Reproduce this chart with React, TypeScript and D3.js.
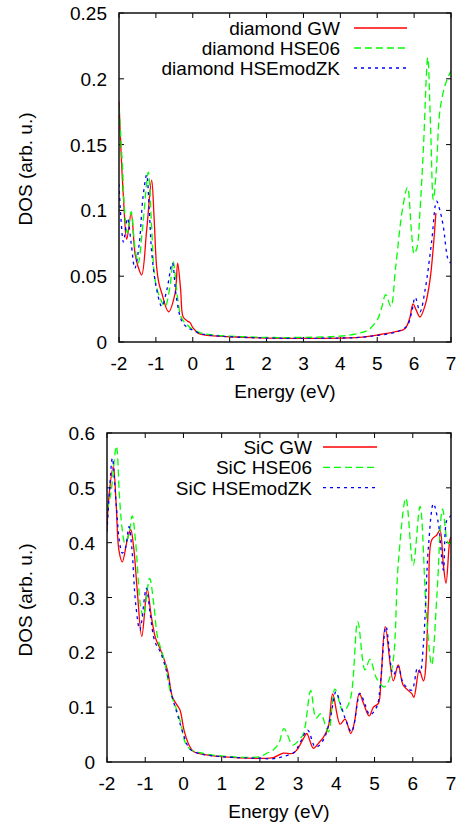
import React from "react";
import * as d3 from "d3";

// ---------- data ----------
const energyTicks = [-2, -1, 0, 1, 2, 3, 4, 5, 6, 7];
const diamondYTicks = [0, 0.05, 0.1, 0.15, 0.2, 0.25];
const sicYTicks = [0, 0.1, 0.2, 0.3, 0.4, 0.5, 0.6];

const diamondLabels = ["diamond GW", "diamond HSE06", "diamond HSEmodZK"];
const sicLabels = ["SiC GW", "SiC HSE06", "SiC HSEmodZK"];

const diamondGwE = [-2, -1.95, -1.88, -1.79, -1.67, -1.565, -1.48, -1.385, -1.25, -1.115, -1.05, -0.98, -0.92, -0.84, -0.66, -0.48, -0.41, -0.33, -0.26, -0.15, -0.075, 0.0, 0.15, 0.4, 1.0, 2.0, 3.0, 4.0, 4.5, 5.0, 5.5, 5.75, 5.88, 5.97, 6.06, 6.16, 6.3, 6.43, 6.52, 6.59];
const diamondGwDos = [0.183, 0.148, 0.11, 0.078, 0.098, 0.067, 0.057, 0.051, 0.085, 0.123, 0.095, 0.057, 0.045, 0.037, 0.023, 0.037, 0.06, 0.04, 0.019, 0.016, 0.0147, 0.011, 0.0066, 0.005, 0.004, 0.003, 0.0028, 0.003, 0.0035, 0.0053, 0.0078, 0.01, 0.018, 0.029, 0.024, 0.019, 0.028, 0.047, 0.072, 0.098];

const diamondHseE = [-2, -1.9, -1.85, -1.77, -1.67, -1.57, -1.48, -1.35, -1.205, -1.12, -1.02, -0.88, -0.75, -0.62, -0.53, -0.42, -0.3, -0.15, -0.03, 0.2, 0.5, 1.0, 2.0, 3.0, 4.0, 4.5, 4.75, 5.0, 5.12, 5.23, 5.37, 5.5, 5.68, 5.82, 5.93, 6.0, 6.08, 6.16, 6.25, 6.37, 6.45, 6.52, 6.6, 6.7, 6.85, 7.0];
const diamondHseDos = [0.178, 0.13, 0.1, 0.083, 0.099, 0.072, 0.06, 0.09, 0.129, 0.09, 0.047, 0.033, 0.027, 0.042, 0.061, 0.035, 0.018, 0.013, 0.01, 0.007, 0.0055, 0.0045, 0.0035, 0.0035, 0.0045, 0.0066, 0.009, 0.0167, 0.026, 0.036, 0.027, 0.057, 0.1, 0.1175, 0.083, 0.067, 0.072, 0.1, 0.146, 0.216, 0.16, 0.108, 0.13, 0.176, 0.196, 0.206];

const diamondModE = [-2, -1.95, -1.88, -1.77, -1.67, -1.57, -1.45, -1.35, -1.25, -1.18, -1.11, -0.98, -0.84, -0.7, -0.555, -0.45, -0.3, -0.15, 0.0, 0.2, 0.5, 1.0, 2.0, 3.0, 4.0, 4.5, 5.0, 5.5, 5.8, 5.93, 6.03, 6.16, 6.3, 6.47, 6.61, 6.7, 6.79, 6.93, 7.0];
const diamondModDos = [0.12, 0.095, 0.076, 0.094, 0.075, 0.056, 0.075, 0.11, 0.127, 0.1, 0.067, 0.04, 0.027, 0.04, 0.06, 0.035, 0.016, 0.011, 0.009, 0.0065, 0.005, 0.004, 0.003, 0.0028, 0.003, 0.0035, 0.005, 0.0075, 0.012, 0.022, 0.034, 0.023, 0.04, 0.075, 0.107, 0.1, 0.088, 0.062, 0.06];

const sicGwE = [-2, -1.95, -1.835, -1.76, -1.69, -1.6, -1.47, -1.38, -1.3, -1.21, -1.09, -0.945, -0.85, -0.73, -0.595, -0.42, -0.29, -0.18, -0.09, 0.015, 0.145, 0.26, 0.45, 1.0, 2.0, 2.35, 2.5, 2.61, 2.875, 3.0, 3.14, 3.225, 3.4, 3.53, 3.66, 3.79, 3.905, 4.1, 4.23, 4.375, 4.47, 4.6, 4.71, 4.86, 4.97, 5.1, 5.17, 5.28, 5.49, 5.62, 5.75, 5.97, 6.03, 6.17, 6.28, 6.41, 6.495, 6.63, 6.71, 6.8, 6.87, 6.97, 7.0];
const sicGwDos = [0.423, 0.484, 0.539, 0.47, 0.387, 0.365, 0.405, 0.424, 0.39, 0.314, 0.229, 0.315, 0.27, 0.226, 0.204, 0.168, 0.119, 0.105, 0.095, 0.058, 0.031, 0.019, 0.015, 0.0097, 0.0067, 0.008, 0.013, 0.016, 0.016, 0.025, 0.043, 0.052, 0.025, 0.034, 0.045, 0.064, 0.124, 0.069, 0.078, 0.052, 0.071, 0.125, 0.107, 0.084, 0.1, 0.107, 0.153, 0.247, 0.148, 0.177, 0.14, 0.125, 0.118, 0.168, 0.148, 0.29, 0.405, 0.414, 0.423, 0.36, 0.326, 0.405, 0.41];

const sicHseE = [-2, -1.9, -1.755, -1.67, -1.6, -1.53, -1.43, -1.34, -1.25, -1.12, -1.05, -0.885, -0.78, -0.68, -0.5, -0.33, -0.2, -0.07, 0.05, 0.2, 0.5, 1.0, 2.0, 2.18, 2.35, 2.5, 2.63, 2.86, 3.0, 3.14, 3.33, 3.47, 3.59, 3.79, 3.965, 4.18, 4.36, 4.56, 4.75, 4.88, 5.05, 5.25, 5.35, 5.49, 5.62, 5.82, 6.01, 6.19, 6.36, 6.495, 6.63, 6.78, 6.93, 7.0];
const sicHseDos = [0.46, 0.49, 0.576, 0.48, 0.423, 0.399, 0.415, 0.449, 0.4, 0.283, 0.265, 0.335, 0.29, 0.229, 0.185, 0.125, 0.1, 0.071, 0.035, 0.022, 0.016, 0.011, 0.0097, 0.016, 0.022, 0.035, 0.061, 0.031, 0.038, 0.052, 0.13, 0.08, 0.088, 0.055, 0.133, 0.092, 0.113, 0.256, 0.168, 0.187, 0.153, 0.137, 0.145, 0.186, 0.362, 0.481, 0.359, 0.466, 0.265, 0.177, 0.302, 0.461, 0.399, 0.4];

const sicModE = [-2, -1.93, -1.86, -1.76, -1.67, -1.6, -1.52, -1.425, -1.35, -1.25, -1.14, -0.97, -0.87, -0.75, -0.6, -0.42, -0.3, -0.15, 0.0, 0.15, 0.3, 0.5, 1.0, 2.0, 2.35, 2.61, 2.9, 3.05, 3.25, 3.44, 3.55, 3.7, 3.85, 3.99, 4.1, 4.245, 4.4, 4.62, 4.75, 4.88, 5.06, 5.15, 5.3, 5.49, 5.62, 5.75, 5.97, 6.12, 6.19, 6.28, 6.41, 6.54, 6.67, 6.8, 6.89, 6.97, 7.0];
const sicModDos = [0.42, 0.5, 0.554, 0.47, 0.4, 0.381, 0.39, 0.429, 0.39, 0.289, 0.241, 0.317, 0.27, 0.22, 0.2, 0.16, 0.12, 0.085, 0.05, 0.025, 0.018, 0.014, 0.0097, 0.0067, 0.006, 0.01, 0.018, 0.035, 0.058, 0.028, 0.03, 0.046, 0.083, 0.128, 0.107, 0.077, 0.055, 0.125, 0.105, 0.086, 0.101, 0.14, 0.247, 0.159, 0.174, 0.144, 0.131, 0.171, 0.163, 0.216, 0.393, 0.471, 0.435, 0.35, 0.441, 0.447, 0.45];

// ---------- styles ----------
const FONT = "'Liberation Sans', Arial, Helvetica, sans-serif";
const FS = 19;
const styles = [
  { color: "#ff0000", dash: "none" },
  { color: "#00ff00", dash: "7,4" },
  { color: "#0000ff", dash: "3,4" },
];

type Series = { e: number[]; v: number[] };

function Panel(props: {
  id: string;
  left: number; right: number; top: number; bottom: number;
  yMax: number; yTicks: number[];
  series: Series[]; labels: string[];
  legTextX: number; legLineX1: number; legLineX2: number; legY0: number; legDy: number;
  yLabelY: number;
}) {
  const { left, right, top, bottom } = props;
  const x = d3.scaleLinear().domain([-2, 7]).range([left, right]);
  const y = d3.scaleLinear().domain([0, props.yMax]).range([bottom, top]);
  const tl = 5;
  const fmt = (t: number) => String(+t.toFixed(2));
  return (
    <g>
      <defs>
        <clipPath id={props.id}>
          <rect x={left} y={top} width={right - left} height={bottom - top} />
        </clipPath>
      </defs>
      {energyTicks.map((t) => (
        <g key={"x" + t}>
          <line x1={x(t)} x2={x(t)} y1={bottom} y2={bottom - tl} stroke="#000" strokeWidth={1} />
          <line x1={x(t)} x2={x(t)} y1={top} y2={top + tl} stroke="#000" strokeWidth={1} />
          <text x={x(t)} y={bottom + 28} textAnchor="middle" fontSize={FS} fontFamily={FONT} fill="#000">{String(t)}</text>
        </g>
      ))}
      {props.yTicks.map((t) => (
        <g key={"y" + t}>
          <line x1={left} x2={left + tl} y1={y(t)} y2={y(t)} stroke="#000" strokeWidth={1} />
          <line x1={right} x2={right - tl} y1={y(t)} y2={y(t)} stroke="#000" strokeWidth={1} />
          <text x={left - 12} y={y(t) + 7} textAnchor="end" fontSize={FS} fontFamily={FONT} fill="#000">{fmt(t)}</text>
        </g>
      ))}
      <g clipPath={`url(#${props.id})`}>
        {props.series.map((s, i) => {
          const pts = s.e.map((e, k) => [e, s.v[k]] as [number, number]);
          const path = d3.line<[number, number]>()
            .x((d) => x(d[0]))
            .y((d) => y(d[1]))
            .curve(d3.curveCatmullRom.alpha(0.5))(pts) || "";
          return (
            <path key={i} d={path} fill="none" stroke={styles[i].color}
              strokeWidth={1.3} strokeDasharray={styles[i].dash} />
          );
        })}
      </g>
      <rect x={left} y={top} width={right - left} height={bottom - top} fill="none" stroke="#111" strokeWidth={1.5} />
      {props.labels.map((lab, i) => {
        const yy = props.legY0 + i * props.legDy;
        return (
          <g key={lab}>
            <text x={props.legTextX} y={yy + 7} textAnchor="end" fontSize={FS} fontFamily={FONT} fill="#000">{lab}</text>
            <line x1={props.legLineX1} x2={props.legLineX2} y1={yy} y2={yy} stroke={styles[i].color}
              strokeWidth={1.3} strokeDasharray={styles[i].dash} />
          </g>
        );
      })}
      <text x={(left + right) / 2} y={bottom + 56} textAnchor="middle" fontSize={FS} fontFamily={FONT} fill="#000">Energy (eV)</text>
      <text transform={`translate(32,${props.yLabelY}) rotate(-90)`} textAnchor="middle" fontSize={FS} fontFamily={FONT} fill="#000">DOS (arb. u.)</text>
    </g>
  );
}

export default function App() {
  const diamondSeries: Series[] = [
    { e: diamondGwE, v: diamondGwDos },
    { e: diamondHseE, v: diamondHseDos },
    { e: diamondModE, v: diamondModDos },
  ];
  const sicSeries: Series[] = [
    { e: sicGwE, v: sicGwDos },
    { e: sicHseE, v: sicHseDos },
    { e: sicModE, v: sicModDos },
  ];
  return (
    <svg width={466} height={827} style={{ position: "absolute", left: 0, top: 0, background: "#fff" }}>
      <rect x={0} y={0} width={466} height={827} fill="#fff" />
      <Panel id="clipA" left={119} right={451} top={13} bottom={342} yMax={0.25} yTicks={diamondYTicks}
        series={diamondSeries} labels={diamondLabels}
        legTextX={340} legLineX1={354} legLineX2={407} legY0={28} legDy={20} yLabelY={169} />
      <Panel id="clipB" left={107} right={451} top={433} bottom={762} yMax={0.6} yTicks={sicYTicks}
        series={sicSeries} labels={sicLabels}
        legTextX={312} legLineX1={323} legLineX2={377} legY0={447} legDy={20.3} yLabelY={600} />
    </svg>
  );
}
